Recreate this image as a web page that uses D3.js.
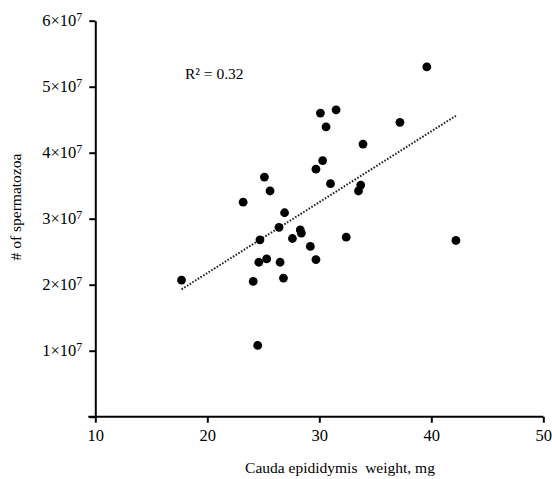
<!DOCTYPE html>
<html>
<head>
<meta charset="utf-8">
<script src="https://cdn.jsdelivr.net/npm/d3@7"></script>
<style>
  body { margin: 0; background: #fff; }
  svg text { font-family: "Liberation Serif", "DejaVu Serif", serif; fill: #000; }
  .axis path, .axis line { stroke: #000; stroke-width: 2; }
  .axis text { font-size: 16.5px; }
</style>
</head>
<body>
<div id="chart"></div>
<script>
// epididymis weight (mg) vs sperm count (millions)
var weight = [17.7, 23.2, 25.1, 25.6, 26.9, 26.4, 24.7, 27.6, 28.3, 28.4,
              24.6, 25.3, 26.5, 24.1, 26.8, 24.5, 29.2, 29.7, 32.4, 42.2,
              31.0, 33.7, 33.5, 39.6, 30.1, 31.5, 30.6, 37.2, 33.9, 30.3, 29.7];
var spermCount = [20.7, 32.5, 36.3, 34.2, 30.9, 28.7, 26.8, 27.0, 28.3, 27.8,
                  23.4, 23.9, 23.4, 20.5, 21.0, 10.8, 25.8, 23.8, 27.2, 26.7,
                  35.3, 35.1, 34.2, 53.0, 46.0, 46.5, 43.9, 44.6, 41.3, 38.8, 37.5];
// ends of the fitted line
var fitWeight = [17.7, 42.2];
var fitCount = [19.3, 45.6];
var xTicks = [10, 20, 30, 40, 50];
var yTicks = [0, 10, 20, 30, 40, 50, 60];
var rSquared = "0.32";

var width = 552, height = 479;
var serif = "'Liberation Serif', 'DejaVu Serif', serif";

var svg = d3.select("#chart").append("svg")
    .attr("width", width)
    .attr("height", height);

var x = d3.scaleLinear().domain([10, 50]).range([95.3, 543.3]);
var y = d3.scaleLinear().domain([0, 60]).range([416.7, 20.7]);

// x axis
var gx = svg.append("g")
    .attr("class", "axis")
    .attr("transform", "translate(0," + y(0) + ")")
    .call(d3.axisBottom(x).tickValues(xTicks).tickSize(6).tickSizeOuter(0).tickPadding(7));
gx.select(".domain").attr("d", "M" + (x(10) - 7) + ",0H" + x(50));
gx.attr("font-family", serif);

// y axis
var gy = svg.append("g")
    .attr("class", "axis")
    .attr("transform", "translate(" + x(10) + ",0)")
    .call(d3.axisLeft(y).tickValues(yTicks).tickSize(6).tickSizeOuter(0).tickPadding(7)
      .tickFormat(function(d) { return d ? (d / 10) + "×10" : ""; }));
gy.attr("font-family", serif);
gy.selectAll(".tick text").each(function(d) {
  if (!d) return;
  d3.select(this).append("tspan")
    .attr("dy", "-0.45em")
    .style("font-size", "12px")
    .text("7");
});

// trend line
svg.append("line")
    .attr("x1", x(fitWeight[0])).attr("y1", y(fitCount[0]))
    .attr("x2", x(fitWeight[1])).attr("y2", y(fitCount[1]))
    .attr("stroke", "#222")
    .attr("stroke-width", 2)
    .attr("stroke-dasharray", "1.6,1.6");

// points
svg.append("g").selectAll("circle")
    .data(weight)
  .enter().append("circle")
    .attr("cx", function(d) { return x(d); })
    .attr("cy", function(d, i) { return y(spermCount[i]); })
    .attr("r", 4.4)
    .attr("fill", "#000");

svg.append("text")
    .attr("x", 185)
    .attr("y", 79)
    .attr("font-family", serif)
    .style("font-size", "15.5px")
    .text("R² = " + rSquared);

svg.append("text")
    .attr("x", 340)
    .attr("y", 473)
    .attr("text-anchor", "middle")
    .attr("font-family", serif)
    .style("font-size", "15.5px")
    .style("white-space", "pre")
    .text("Cauda epididymis  weight, mg");

svg.append("text")
    .attr("transform", "translate(21,207) rotate(-90)")
    .attr("text-anchor", "middle")
    .attr("font-family", serif)
    .style("font-size", "15.5px")
    .text("# of spermatozoa");
</script>
</body>
</html>
